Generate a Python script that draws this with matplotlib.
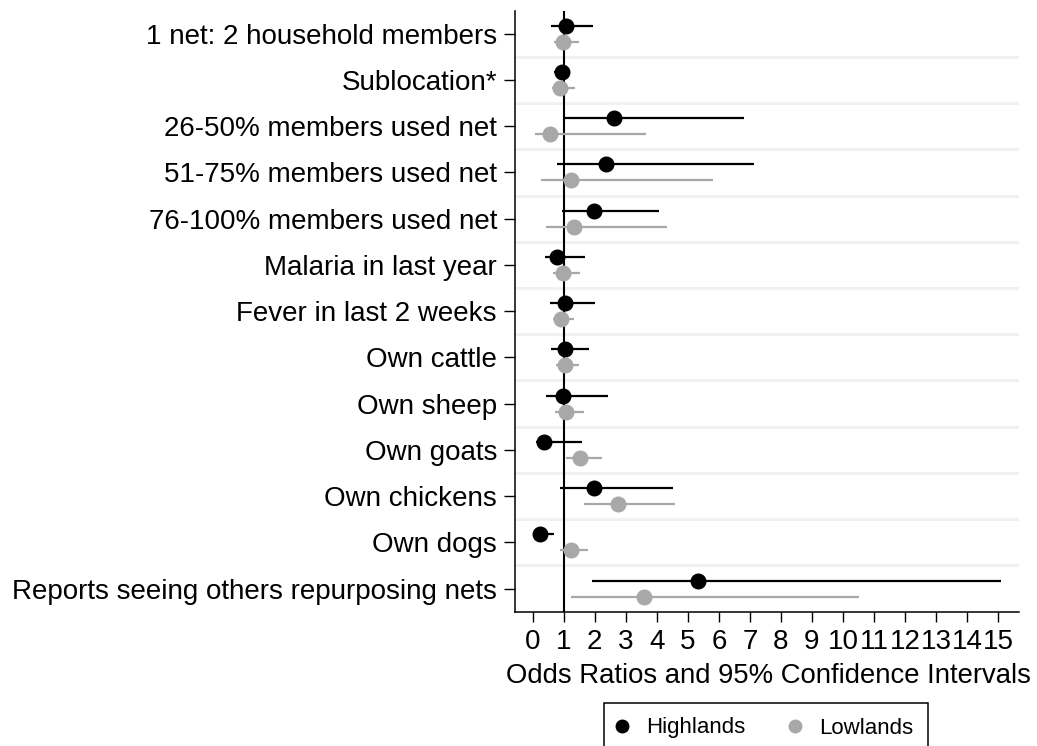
import matplotlib.pyplot as plt
import numpy as np
from matplotlib.lines import Line2D
from matplotlib.patches import Rectangle

plt.rcParams['font.family'] = ['Liberation Sans', 'DejaVu Sans']

labels = ["1 net: 2 household members",
          "Sublocation*",
          "26-50% members used net",
          "51-75% members used net",
          "76-100% members used net",
          "Malaria in last year",
          "Fever in last 2 weeks",
          "Own cattle",
          "Own sheep",
          "Own goats",
          "Own chickens",
          "Own dogs",
          "Reports seeing others repurposing nets"]

# odds ratios with 95% CI bounds
high_or = [1.07, 0.93, 2.62, 2.35, 1.97, 0.80, 1.05, 1.04, 0.99, 0.37, 1.99, 0.25, 5.33]
high_lo = [0.60, 0.70, 1.02, 0.78, 0.96, 0.39, 0.56, 0.59, 0.42, 0.11, 0.89, 0.15, 1.90]
high_hi = [1.94, 1.20, 6.81, 7.12, 4.08, 1.69, 2.01, 1.82, 2.42, 1.59, 4.51, 0.70, 15.11]

low_or = [0.99, 0.88, 0.56, 1.22, 1.33, 0.98, 0.91, 1.04, 1.08, 1.53, 2.75, 1.25, 3.60]
low_lo = [0.69, 0.62, 0.085, 0.27, 0.42, 0.66, 0.64, 0.75, 0.71, 1.08, 1.66, 0.87, 1.23]
low_hi = [1.48, 1.36, 3.66, 5.80, 4.33, 1.51, 1.32, 1.48, 1.67, 2.23, 4.59, 1.79, 10.52]

gray = '#a8a8a8'

fig = plt.figure(figsize=(10.37, 7.46), dpi=100)
ax = fig.add_axes([0.4966, 0.18, 0.4856, 0.8059])

rows = np.arange(len(labels))
off = 0.175

# light separators between variables
for k in rows[:-1]:
    ax.axhline(k + 0.5, color='#f0f0f0', lw=2, zorder=0)
ax.axvline(1, color='black', lw=1.5, zorder=1)

ax.hlines(rows - off, high_lo, high_hi, color='black', lw=1.6, zorder=2)
ax.plot(high_or, rows - off, 'o', color='black', ms=10.5, zorder=3)
ax.hlines(rows + off, low_lo, low_hi, color=gray, lw=1.6, zorder=2)
ax.plot(low_or, rows + off, 'o', color=gray, ms=10.5, zorder=3)

ax.set_xlim(-0.57, 15.66)
ax.set_ylim(12.5, -0.5)
ax.set_xticks(range(16))
ax.set_yticks(rows)
ax.set_yticklabels(labels)
ax.tick_params(axis='y', labelsize=20, length=8, width=1, pad=5)
ax.tick_params(axis='x', labelsize=20, length=7.5, width=1, pad=5)
for s in ['top', 'right']:
    ax.spines[s].set_visible(False)
for s in ['left', 'bottom']:
    ax.spines[s].set_linewidth(1.1)

ax.set_xlabel("Odds Ratios and 95% Confidence Intervals", fontsize=19.8)
ax.xaxis.set_label_coords(0.5025, -0.085)

handles = [Line2D([], [], marker='o', ls='none', color='black', ms=9),
           Line2D([], [], marker='o', ls='none', color=gray, ms=9)]
fig.legend(handles, ["Highlands", "Lowlands"], ncol=2, frameon=False,
           loc='center', bbox_to_anchor=(762 / 1037, 1 - 728 / 746),
           fontsize=16, handlelength=1.0, handletextpad=0.6,
           columnspacing=1.7, borderpad=0.4)
fig.add_artist(Rectangle((604 / 1037, -0.02), 324 / 1037, 0.02 + 1 - 702.7 / 746,
                         transform=fig.transFigure, fill=False,
                         edgecolor='black', lw=1.1))

fig.savefig('out.png', dpi=100)
